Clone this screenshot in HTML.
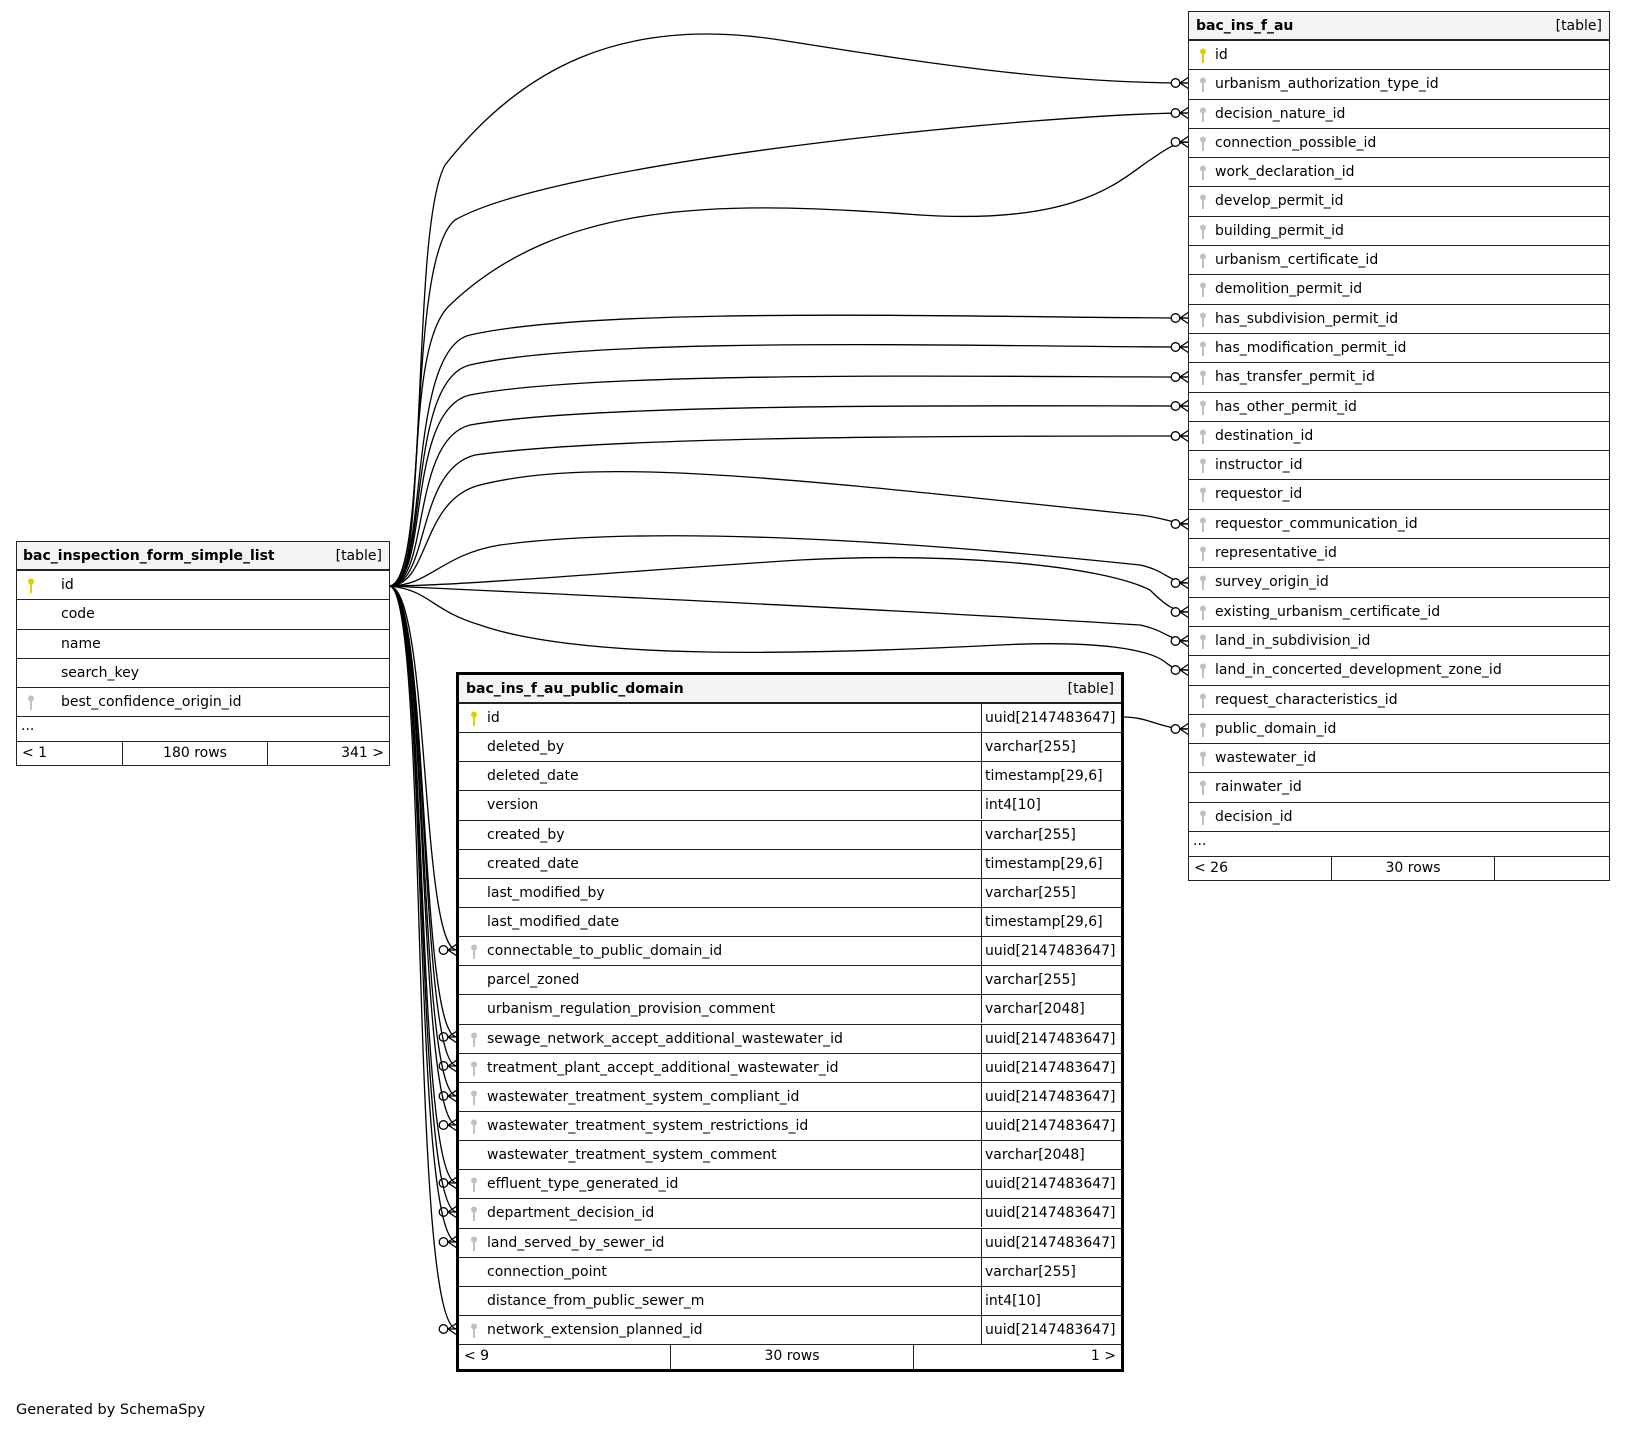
<!DOCTYPE html>
<html><head><meta charset="utf-8"><style>
body{margin:0;width:1625px;height:1429px;background:#fff;position:relative;font-family:"DejaVu Sans","Liberation Sans",sans-serif;font-size:14px;color:#000;overflow:hidden}
.t{position:absolute;border:1.5px solid #222;box-sizing:border-box;background:#fff}
.t.thick{border:3px solid #000}
.r{height:29.3px;box-sizing:border-box;border-bottom:1.5px solid #222;position:relative;line-height:28px;white-space:nowrap}
.thick .r{height:29.15px}
.h{background:#f4f4f4;font-weight:bold;height:29px!important;border-bottom:2px solid #222}
.h span{position:absolute;right:7px;font-weight:normal}
.k{position:absolute;top:7px;width:8px;height:16px}
.e{height:23.5px;line-height:18px;border-bottom:1.5px solid #222;padding-left:4px}
.f{height:23.5px;line-height:22px;display:flex}
.f div{box-sizing:border-box;padding:0 5px}
.c{position:absolute;top:0}
svg.lines{position:absolute;left:0;top:0}
</style></head><body>
<svg class="lines" width="1625" height="1429">
<defs>
<marker id="m" markerUnits="userSpaceOnUse" viewBox="-22 -10 24 20" refX="0" refY="0" markerWidth="24" markerHeight="20" orient="auto">
<path d="M-9,0 L0,-6 M-9,0 L0,0 M-9,0 L0,6" stroke="#000" stroke-width="1.3" fill="none"/>
<circle cx="-13.5" cy="0" r="4.3" fill="#fff" stroke="#000" stroke-width="1.3"/>
</marker>
<symbol id="kp" viewBox="0 0 8 16"><circle cx="4" cy="3.5" r="3" fill="#e0d000"/><rect x="3" y="5" width="2" height="10" fill="#e0d000"/></symbol>
<symbol id="kf" viewBox="0 0 8 16"><circle cx="4" cy="3.5" r="3" fill="#c0c0c0"/><rect x="3" y="5" width="2" height="10" fill="#c0c0c0"/></symbol>
</defs>
<g stroke="#000" stroke-width="1.3" fill="none" marker-end="url(#m)">
<path d="M389,586 C430,586 410,230 445,165 C520,70 620,15 780,40 C920,62 1050,83 1189,83"/>
<path d="M389,586 C430,586 405,260 455,220 C560,160 1050,113 1189,113"/>
<path d="M389,586 C430,586 400,350 450,305 C560,200 720,200 920,215 C1080,225 1120,180 1150,160 C1165,150 1175,142 1189,142"/>
<path d="M389,586 C430,586 405,350 470,335 C600,305 1000,318 1189,318"/>
<path d="M389,586 C430,586 405,380 470,365 C600,335 1000,347 1189,347"/>
<path d="M389,586 C430,586 405,410 470,395 C600,370 1000,377 1189,377"/>
<path d="M389,586 C430,586 410,440 470,425 C600,402 1000,406 1189,406"/>
<path d="M389,586 C430,586 415,470 475,455 C620,435 1000,436 1189,436"/>
<path d="M389,586 C430,586 420,500 480,485 C600,455 800,480 1140,515 C1165,518 1175,524 1189,524"/>
<path d="M389,586 C430,586 440,555 500,545 C650,525 900,540 1140,565 C1165,570 1170,583 1189,583"/>
<path d="M389,586 C460,586 640,570 800,560 C950,552 1100,565 1150,590 C1165,605 1175,612 1189,612"/>
<path d="M389,586 C600,596 900,610 1140,625 C1165,630 1170,641 1189,641"/>
<path d="M389,586 C430,590 430,610 480,625 C580,660 800,655 1000,645 C1100,640 1150,650 1165,662 C1175,670 1180,670 1189,670"/>
<path d="M1123,717 C1150,717 1160,729 1189,729"/>
<path d="M389,586 C430,586 420,950 457,950"/>
<path d="M389,586 C430,586 418,1037 457,1037"/>
<path d="M389,586 C430,586 418,1066 457,1066"/>
<path d="M389,586 C430,586 416,1096 457,1096"/>
<path d="M389,586 C430,586 415,1125 457,1125"/>
<path d="M389,586 C430,586 413,1183 457,1183"/>
<path d="M389,586 C430,586 412,1212 457,1212"/>
<path d="M389,586 C430,586 410,1242 457,1242"/>
<path d="M389,586 C430,586 408,1329 457,1329"/>
</g>
</svg>

<!-- left table -->
<div class="t" style="left:16px;top:541px;width:374px">
<div class="r h"><b style="position:absolute;left:6px">bac_inspection_form_simple_list</b><span>[table]</span></div>
<div class="r"><svg class="k" style="left:10px"><use href="#kp"/></svg><span style="position:absolute;left:44px">id</span></div>
<div class="r"><span style="position:absolute;left:44px">code</span></div>
<div class="r"><span style="position:absolute;left:44px">name</span></div>
<div class="r"><span style="position:absolute;left:44px">search_key</span></div>
<div class="r"><svg class="k" style="left:10px"><use href="#kf"/></svg><span style="position:absolute;left:44px">best_confidence_origin_id</span></div>
<div class="e">...</div>
<div class="f"><div style="width:106px;border-right:1.5px solid #222">&lt; 1</div><div style="width:145px;border-right:1.5px solid #222;text-align:center">180 rows</div><div style="flex:1;text-align:right">341 &gt;</div></div>
</div>

<!-- right table -->
<div class="t" style="left:1188px;top:11px;width:422px">
<div class="r h"><b style="position:absolute;left:7px">bac_ins_f_au</b><span>[table]</span></div>
<div class="r"><svg class="k" style="left:10px"><use href="#kp"/></svg><span style="position:absolute;left:26px">id</span></div>
<div class="r"><svg class="k" style="left:10px"><use href="#kf"/></svg><span style="position:absolute;left:26px">urbanism_authorization_type_id</span></div>
<div class="r"><svg class="k" style="left:10px"><use href="#kf"/></svg><span style="position:absolute;left:26px">decision_nature_id</span></div>
<div class="r"><svg class="k" style="left:10px"><use href="#kf"/></svg><span style="position:absolute;left:26px">connection_possible_id</span></div>
<div class="r"><svg class="k" style="left:10px"><use href="#kf"/></svg><span style="position:absolute;left:26px">work_declaration_id</span></div>
<div class="r"><svg class="k" style="left:10px"><use href="#kf"/></svg><span style="position:absolute;left:26px">develop_permit_id</span></div>
<div class="r"><svg class="k" style="left:10px"><use href="#kf"/></svg><span style="position:absolute;left:26px">building_permit_id</span></div>
<div class="r"><svg class="k" style="left:10px"><use href="#kf"/></svg><span style="position:absolute;left:26px">urbanism_certificate_id</span></div>
<div class="r"><svg class="k" style="left:10px"><use href="#kf"/></svg><span style="position:absolute;left:26px">demolition_permit_id</span></div>
<div class="r"><svg class="k" style="left:10px"><use href="#kf"/></svg><span style="position:absolute;left:26px">has_subdivision_permit_id</span></div>
<div class="r"><svg class="k" style="left:10px"><use href="#kf"/></svg><span style="position:absolute;left:26px">has_modification_permit_id</span></div>
<div class="r"><svg class="k" style="left:10px"><use href="#kf"/></svg><span style="position:absolute;left:26px">has_transfer_permit_id</span></div>
<div class="r"><svg class="k" style="left:10px"><use href="#kf"/></svg><span style="position:absolute;left:26px">has_other_permit_id</span></div>
<div class="r"><svg class="k" style="left:10px"><use href="#kf"/></svg><span style="position:absolute;left:26px">destination_id</span></div>
<div class="r"><svg class="k" style="left:10px"><use href="#kf"/></svg><span style="position:absolute;left:26px">instructor_id</span></div>
<div class="r"><svg class="k" style="left:10px"><use href="#kf"/></svg><span style="position:absolute;left:26px">requestor_id</span></div>
<div class="r"><svg class="k" style="left:10px"><use href="#kf"/></svg><span style="position:absolute;left:26px">requestor_communication_id</span></div>
<div class="r"><svg class="k" style="left:10px"><use href="#kf"/></svg><span style="position:absolute;left:26px">representative_id</span></div>
<div class="r"><svg class="k" style="left:10px"><use href="#kf"/></svg><span style="position:absolute;left:26px">survey_origin_id</span></div>
<div class="r"><svg class="k" style="left:10px"><use href="#kf"/></svg><span style="position:absolute;left:26px">existing_urbanism_certificate_id</span></div>
<div class="r"><svg class="k" style="left:10px"><use href="#kf"/></svg><span style="position:absolute;left:26px">land_in_subdivision_id</span></div>
<div class="r"><svg class="k" style="left:10px"><use href="#kf"/></svg><span style="position:absolute;left:26px">land_in_concerted_development_zone_id</span></div>
<div class="r"><svg class="k" style="left:10px"><use href="#kf"/></svg><span style="position:absolute;left:26px">request_characteristics_id</span></div>
<div class="r"><svg class="k" style="left:10px"><use href="#kf"/></svg><span style="position:absolute;left:26px">public_domain_id</span></div>
<div class="r"><svg class="k" style="left:10px"><use href="#kf"/></svg><span style="position:absolute;left:26px">wastewater_id</span></div>
<div class="r"><svg class="k" style="left:10px"><use href="#kf"/></svg><span style="position:absolute;left:26px">rainwater_id</span></div>
<div class="r"><svg class="k" style="left:10px"><use href="#kf"/></svg><span style="position:absolute;left:26px">decision_id</span></div>
<div class="e">...</div>
<div class="f"><div style="width:143px;border-right:1.5px solid #222">&lt; 26</div><div style="width:163px;border-right:1.5px solid #222;text-align:center">30 rows</div><div style="flex:1"></div></div>
</div>

<!-- middle table -->
<div class="t thick" style="left:456px;top:672px;width:668px">
<div class="r h"><b style="position:absolute;left:7px">bac_ins_f_au_public_domain</b><span>[table]</span></div>
<div class="r"><svg class="k" style="left:11px"><use href="#kp"/></svg><span style="position:absolute;left:28px">id</span><span class="c" style="left:522px;border-left:1.5px solid #222;padding-left:3px;height:28px">uuid[2147483647]</span></div>
<div class="r"><span style="position:absolute;left:28px">deleted_by</span><span class="c" style="left:522px;border-left:1.5px solid #222;padding-left:3px;height:28px">varchar[255]</span></div>
<div class="r"><span style="position:absolute;left:28px">deleted_date</span><span class="c" style="left:522px;border-left:1.5px solid #222;padding-left:3px;height:28px">timestamp[29,6]</span></div>
<div class="r"><span style="position:absolute;left:28px">version</span><span class="c" style="left:522px;border-left:1.5px solid #222;padding-left:3px;height:28px">int4[10]</span></div>
<div class="r"><span style="position:absolute;left:28px">created_by</span><span class="c" style="left:522px;border-left:1.5px solid #222;padding-left:3px;height:28px">varchar[255]</span></div>
<div class="r"><span style="position:absolute;left:28px">created_date</span><span class="c" style="left:522px;border-left:1.5px solid #222;padding-left:3px;height:28px">timestamp[29,6]</span></div>
<div class="r"><span style="position:absolute;left:28px">last_modified_by</span><span class="c" style="left:522px;border-left:1.5px solid #222;padding-left:3px;height:28px">varchar[255]</span></div>
<div class="r"><span style="position:absolute;left:28px">last_modified_date</span><span class="c" style="left:522px;border-left:1.5px solid #222;padding-left:3px;height:28px">timestamp[29,6]</span></div>
<div class="r"><svg class="k" style="left:11px"><use href="#kf"/></svg><span style="position:absolute;left:28px">connectable_to_public_domain_id</span><span class="c" style="left:522px;border-left:1.5px solid #222;padding-left:3px;height:28px">uuid[2147483647]</span></div>
<div class="r"><span style="position:absolute;left:28px">parcel_zoned</span><span class="c" style="left:522px;border-left:1.5px solid #222;padding-left:3px;height:28px">varchar[255]</span></div>
<div class="r"><span style="position:absolute;left:28px">urbanism_regulation_provision_comment</span><span class="c" style="left:522px;border-left:1.5px solid #222;padding-left:3px;height:28px">varchar[2048]</span></div>
<div class="r"><svg class="k" style="left:11px"><use href="#kf"/></svg><span style="position:absolute;left:28px">sewage_network_accept_additional_wastewater_id</span><span class="c" style="left:522px;border-left:1.5px solid #222;padding-left:3px;height:28px">uuid[2147483647]</span></div>
<div class="r"><svg class="k" style="left:11px"><use href="#kf"/></svg><span style="position:absolute;left:28px">treatment_plant_accept_additional_wastewater_id</span><span class="c" style="left:522px;border-left:1.5px solid #222;padding-left:3px;height:28px">uuid[2147483647]</span></div>
<div class="r"><svg class="k" style="left:11px"><use href="#kf"/></svg><span style="position:absolute;left:28px">wastewater_treatment_system_compliant_id</span><span class="c" style="left:522px;border-left:1.5px solid #222;padding-left:3px;height:28px">uuid[2147483647]</span></div>
<div class="r"><svg class="k" style="left:11px"><use href="#kf"/></svg><span style="position:absolute;left:28px">wastewater_treatment_system_restrictions_id</span><span class="c" style="left:522px;border-left:1.5px solid #222;padding-left:3px;height:28px">uuid[2147483647]</span></div>
<div class="r"><span style="position:absolute;left:28px">wastewater_treatment_system_comment</span><span class="c" style="left:522px;border-left:1.5px solid #222;padding-left:3px;height:28px">varchar[2048]</span></div>
<div class="r"><svg class="k" style="left:11px"><use href="#kf"/></svg><span style="position:absolute;left:28px">effluent_type_generated_id</span><span class="c" style="left:522px;border-left:1.5px solid #222;padding-left:3px;height:28px">uuid[2147483647]</span></div>
<div class="r"><svg class="k" style="left:11px"><use href="#kf"/></svg><span style="position:absolute;left:28px">department_decision_id</span><span class="c" style="left:522px;border-left:1.5px solid #222;padding-left:3px;height:28px">uuid[2147483647]</span></div>
<div class="r"><svg class="k" style="left:11px"><use href="#kf"/></svg><span style="position:absolute;left:28px">land_served_by_sewer_id</span><span class="c" style="left:522px;border-left:1.5px solid #222;padding-left:3px;height:28px">uuid[2147483647]</span></div>
<div class="r"><span style="position:absolute;left:28px">connection_point</span><span class="c" style="left:522px;border-left:1.5px solid #222;padding-left:3px;height:28px">varchar[255]</span></div>
<div class="r"><span style="position:absolute;left:28px">distance_from_public_sewer_m</span><span class="c" style="left:522px;border-left:1.5px solid #222;padding-left:3px;height:28px">int4[10]</span></div>
<div class="r"><svg class="k" style="left:11px"><use href="#kf"/></svg><span style="position:absolute;left:28px">network_extension_planned_id</span><span class="c" style="left:522px;border-left:1.5px solid #222;padding-left:3px;height:28px">uuid[2147483647]</span></div>
<div class="f"><div style="width:212px;border-right:1.5px solid #222">&lt; 9</div><div style="width:243px;border-right:1.5px solid #222;text-align:center">30 rows</div><div style="flex:1;text-align:right">1 &gt;</div></div>
</div>

<div style="position:absolute;left:16px;top:1402px;font-size:14.5px">Generated by SchemaSpy</div>
</body></html>
